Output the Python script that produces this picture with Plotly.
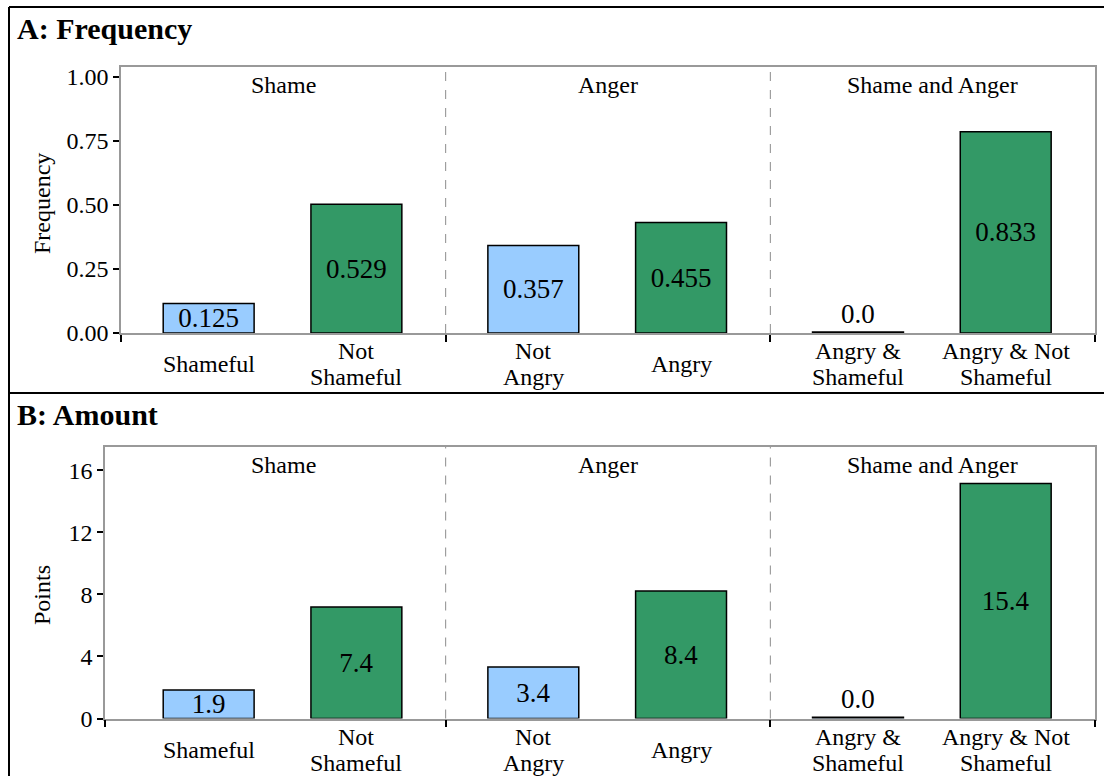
import plotly.graph_objects as go

# ---------------- data ----------------
categories = ["Shameful", "Not<br>Shameful", "Not<br>Angry", "Angry",
              "Angry &<br>Shameful", "Angry & Not<br>Shameful"]
groups = ["Shame", "Anger", "Shame and Anger"]

freq_bar = [0.115, 0.502, 0.341, 0.431, 0.004, 0.785]
freq_label = ["0.125", "0.529", "0.357", "0.455", "0.0", "0.833"]

points_bar = [1.84, 7.19, 3.32, 8.22, 0.08, 15.14]
points_label = ["1.9", "7.4", "3.4", "8.4", "0.0", "15.4"]

freq_ticks = [0.0, 0.25, 0.50, 0.75, 1.00]
points_ticks = [0, 4, 8, 12, 16]

# ---------------- styling / layout ----------------
W, H = 1104, 776
FONT = "Liberation Serif, Times New Roman, Times, serif"
BLUE, GREEN = "#99CCFF", "#339966"
FRAME = "#999999"
OFFSETS = [0.27, 0.725]
BAR_W = 0.28

xpos = [g + OFFSETS[j] for g in range(len(groups)) for j in range(2)]
colors = [BLUE if i % 2 == 0 else GREEN for i in range(len(categories))]


def px_x(p):
    return p / W


def px_y(p):
    return 1 - p / H


panels = [
    dict(xa="x", ya="y", vals=freq_bar, labels=freq_label, ticks=freq_ticks,
         fmt=".2f", yrange=[0, 1.038], left=121, top=67, bottom=333,
         xmin=0.0, ytitle="Frequency", ytitle_y=204, header="A: Frequency",
         header_y=29),
    dict(xa="x2", ya="y2", vals=points_bar, labels=points_label, ticks=points_ticks,
         fmt="d", yrange=[0, 17.5], left=105, top=447, bottom=718.5,
         xmin=-(121 - 105) / ((1095 - 121) / 3), ytitle="Points", ytitle_y=595,
         header="B: Amount", header_y=414),
]

fig = go.Figure()
annotations = []
shapes = []
layout_axes = {}

for k, p in enumerate(panels):
    thr = (p["yrange"][1]) * 0.05
    fig.add_trace(go.Bar(
        x=xpos, y=p["vals"], width=BAR_W,
        marker=dict(color=colors, line=dict(color="black", width=1.5)),
        text=p["labels"],
        textposition=["outside" if v < thr else "inside" for v in p["vals"]],
        insidetextanchor="middle",
        textfont=dict(family=FONT, size=27, color="black"),
        insidetextfont=dict(family=FONT, size=27, color="black"),
        outsidetextfont=dict(family=FONT, size=27, color="black"),
        cliponaxis=False,
        xaxis=p["xa"], yaxis=p["ya"], hoverinfo="skip",
    ))
    suffix = "" if k == 0 else str(k + 1)
    layout_axes["xaxis" + suffix] = dict(
        domain=[px_x(p["left"]), px_x(1095)], range=[p["xmin"], 3],
        anchor=p["ya"], tickvals=[p["xmin"], 1, 2, 3], ticktext=["", "", "", ""],
        ticks="outside", ticklen=7, tickwidth=1.5, tickcolor="black",
        showline=True, linecolor=FRAME, linewidth=1.5, mirror=True,
        showgrid=False, zeroline=False, fixedrange=True, automargin=False,
    )
    layout_axes["yaxis" + suffix] = dict(
        domain=[px_y(p["bottom"]), px_y(p["top"])], range=p["yrange"],
        anchor=p["xa"], tickvals=p["ticks"], tickformat=p["fmt"],
        ticks="outside", ticklen=6, tickwidth=1.5, tickcolor="black",
        tickfont=dict(family=FONT, size=24, color="black"),
        showline=True, linecolor=FRAME, linewidth=1.5, mirror=True,
        showgrid=False, zeroline=False, fixedrange=True, automargin=False,
    )
    ydom = p["ya"] + " domain"
    # group separators
    for sep in range(1, len(groups)):
        shapes.append(dict(type="line", xref=p["xa"], yref=ydom, x0=sep, x1=sep,
                           y0=0, y1=1, line=dict(color="#8c8c8c", width=1, dash="dash")))
    # group titles
    for g, name in enumerate(groups):
        annotations.append(dict(text=name, xref=p["xa"], yref=ydom, x=g + 0.5,
                                y=1, yanchor="middle", yshift=-18,
                                showarrow=False,
                                font=dict(family=FONT, size=24, color="black")))
    # category labels (one annotation per line)
    for i, lab in enumerate(categories):
        lines = lab.split("<br>")
        n = len(lines)
        for li, line in enumerate(lines):
            annotations.append(dict(text=line, xref=p["xa"], yref=ydom, x=xpos[i],
                                    y=0, yanchor="middle",
                                    yshift=-31 - (li - (n - 1) / 2) * 26,
                                    showarrow=False,
                                    font=dict(family=FONT, size=24, color="black")))
    # y-axis title
    annotations.append(dict(text=p["ytitle"], xref="paper", yref="paper",
                            x=px_x(42), y=px_y(p["ytitle_y"]), textangle=-90,
                            xanchor="center", yanchor="middle", showarrow=False,
                            font=dict(family=FONT, size=24, color="black")))
    # panel header
    annotations.append(dict(text="<b>" + p["header"] + "</b>", xref="paper",
                            yref="paper", x=px_x(15), y=px_y(p["header_y"]),
                            xanchor="left", yanchor="middle", showarrow=False,
                            font=dict(family=FONT, size=30, color="black")))

# outer frame lines
frame_line = dict(color="black", width=2)
shapes += [
    dict(type="line", xref="paper", yref="paper", x0=px_x(9), x1=1,
         y0=px_y(7), y1=px_y(7), line=frame_line),
    dict(type="line", xref="paper", yref="paper", x0=px_x(9), x1=px_x(9),
         y0=px_y(7), y1=0, line=frame_line),
    dict(type="line", xref="paper", yref="paper", x0=px_x(9), x1=1,
         y0=px_y(393), y1=px_y(393), line=frame_line),
]

fig.update_layout(
    width=W, height=H,
    margin=dict(l=0, r=0, t=0, b=0, pad=0, autoexpand=False),
    paper_bgcolor="white", plot_bgcolor="white", showlegend=False,
    font=dict(family=FONT, size=24, color="black"),
    uniformtext=dict(minsize=27, mode="show"),
    annotations=annotations, shapes=shapes,
    **layout_axes,
)

fig.write_html(
    "out.html",
    config={"displayModeBar": False},
    post_script="document.body.style.margin='0';document.body.style.overflow='hidden';",
)
